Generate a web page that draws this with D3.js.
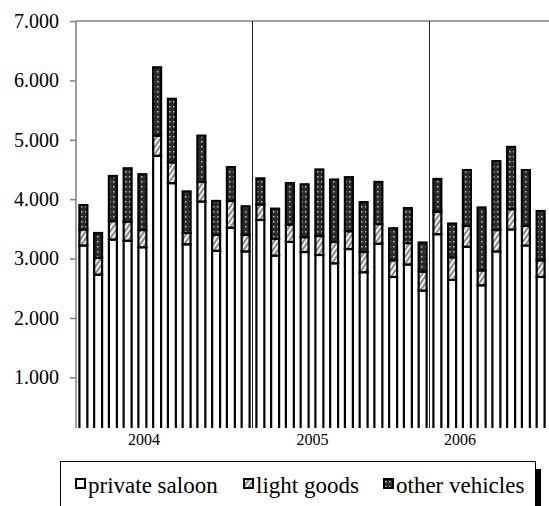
<!DOCTYPE html>
<html><head><meta charset="utf-8">
<script src="https://cdn.jsdelivr.net/npm/d3@7"></script>
<style>body{margin:0;background:#fff}svg{display:block}
svg text{font-family:"Times New Roman","Liberation Serif","DejaVu Serif",serif}</style>
</head><body>
<script>
const months = d3.range(32).map(i => `${2004 + Math.floor(i/12)}-${String(i%12+1).padStart(2,"0")}`);
const years = ["2004","2005","2006"];
const privateSaloon = [3220,2730,3320,3300,3190,4730,4270,3240,3960,3130,3520,3120,
                       3650,3050,3280,3110,3060,2920,3160,2770,3250,2690,2900,2460,
                       3410,2640,3200,2550,3120,3490,3220,2690];
const lightGoods    = [270,280,310,320,290,340,350,190,330,270,450,280,
                       260,280,290,250,320,360,300,340,330,280,360,320,
                       380,380,350,250,360,340,330,280];
const otherVehicles = [410,420,760,900,940,1150,1070,700,780,570,570,480,
                       440,510,700,890,1120,1050,910,840,710,540,590,490,
                       550,570,940,1060,1160,1050,940,830];
const yTicks = [1000,2000,3000,4000,5000,6000,7000];
const seriesNames = ["private saloon","light goods","other vehicles"];

const W = 549, H = 506;
const m = {left:76, top:21, bottom:428};
const svg = d3.select("body").append("svg").attr("width",W).attr("height",H);
const defs = svg.append("defs");
const hatch = defs.append("pattern").attr("id","hatch").attr("patternUnits","userSpaceOnUse")
  .attr("width",4).attr("height",4).attr("patternTransform","rotate(35)");
hatch.append("rect").attr("width",4).attr("height",4).attr("fill","#8a8a8a");
hatch.append("rect").attr("width",2).attr("height",4).attr("fill","#f2f2f2");
const dots = defs.append("pattern").attr("id","dots").attr("patternUnits","userSpaceOnUse")
  .attr("width",4).attr("height",5);
dots.append("rect").attr("width",4).attr("height",5).attr("fill","#2b2b2b");
dots.append("rect").attr("x",1).attr("y",1).attr("width",1.5).attr("height",1.5).attr("fill","#bdbdbd");
defs.append("clipPath").attr("id","plotclip").append("rect")
  .attr("x",m.left).attr("y",m.top-3).attr("width",W-m.left).attr("height",m.bottom-m.top+3);

const x = d3.scaleBand().domain(months).range([m.left, W-1]).paddingInner(0.46).paddingOuter(0.23);
const y = d3.scaleLinear().domain([0,7000]).range([436.7, m.top]);

const data = months.map((mo,i)=>({month:mo, ps:privateSaloon[i], lg:lightGoods[i], ov:otherVehicles[i]}));
const stack = d3.stack().keys(["ps","lg","ov"])(data);
const fills = ["#ffffff","url(#hatch)","url(#dots)"];

svg.append("line").attr("x1",m.left).attr("x2",W).attr("y1",y(7000)).attr("y2",y(7000))
  .attr("stroke","#808080").attr("stroke-width",1.5);
const sepIdx = [12,24];
const sepX = d => x(months[d]) - x.step()*x.paddingInner()/2 - 0.5;
svg.selectAll(".sep").data(sepIdx).join("line")
  .attr("x1",sepX).attr("x2",sepX)
  .attr("y1",m.top).attr("y2",m.bottom).attr("stroke","#222").attr("stroke-width",1);

const g = svg.append("g").attr("clip-path","url(#plotclip)");
stack.forEach((s,k)=>{
  g.selectAll(null).data(s).join("rect")
    .attr("x",d=>x(d.data.month)).attr("width",x.bandwidth())
    .attr("y",d=>y(d[1])).attr("height",d=>y(d[0])-y(d[1]))
    .attr("fill",fills[k]).attr("stroke","#000").attr("stroke-width",2.2);
});

const yAxis = d3.axisLeft(y).tickValues(yTicks).tickSize(6).tickPadding(11)
  .tickFormat(d=>d3.format(",")(d).replace(/,/g,"."));
const ya = svg.append("g").attr("transform",`translate(${m.left},0)`).call(yAxis);
ya.attr("font-family",null).attr("font-size",null);
ya.select(".domain").remove();
ya.selectAll(".tick line").attr("stroke","#808080").attr("stroke-width",1.5);
ya.selectAll("text").style("font-size","20px").attr("fill","#000");
svg.append("line").attr("x1",m.left).attr("x2",m.left).attr("y1",m.top).attr("y2",m.bottom)
  .attr("stroke","#808080").attr("stroke-width",1.5);

const yearCenters = years.map(yr=>{
  const idx = months.map((mo,i)=>i).filter(i=>months[i].startsWith(yr));
  return {yr, first: idx[0], last: idx[idx.length-1]};
});
const labelShift = [-1.39,-1.97,-1.97];
svg.selectAll(".yl").data(yearCenters).join("text")
  .attr("x",(d,j)=>(x(months[d.first]) + x(months[d.last]) + x.bandwidth())/2 + labelShift[j]*x.step())
  .attr("y",445).attr("text-anchor","middle")
  .style("font-size","16px").text(d=>d.yr);

const lg = svg.append("g");
lg.append("rect").attr("x",535).attr("y",469).attr("width",6).attr("height",40).attr("fill","#000");
lg.append("rect").attr("x",60.5).attr("y",461.5).attr("width",475).attr("height",50)
  .attr("fill","#fff").attr("stroke","#000").attr("stroke-width",1);
const legX = [75,243,383];
seriesNames.forEach((n,k)=>{
  lg.append("rect").attr("x",legX[k]+1).attr("y",479).attr("width",9).attr("height",9)
    .attr("fill",fills[k]).attr("stroke","#000").attr("stroke-width",2);
  lg.append("text").attr("x",legX[k]+13).attr("y",493)
    .style("font-size","23px").text(n);
});
</script>
</body></html>
